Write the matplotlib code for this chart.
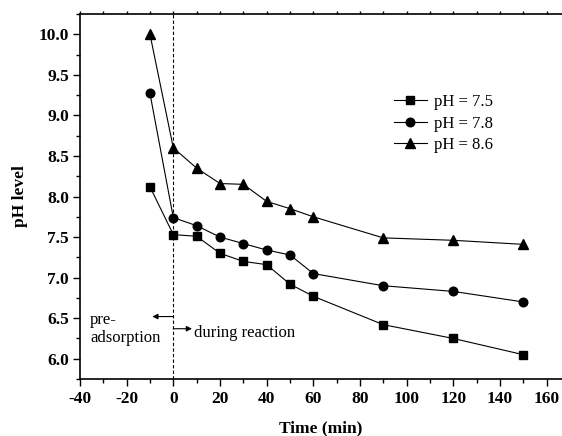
import matplotlib
matplotlib.use("Agg")
import matplotlib.pyplot as plt
from matplotlib.ticker import MultipleLocator

plt.rcParams['font.family'] = ['Liberation Serif', 'DejaVu Serif']
plt.rcParams['axes.unicode_minus'] = False

# Sampling times (min); negative values belong to the pre-adsorption stage
time_min = [-10, 0, 10, 20, 30, 40, 50, 60, 90, 120, 150]

ph_75 = [8.12, 7.53, 7.51, 7.30, 7.20, 7.16, 6.92, 6.77, 6.42, 6.25, 6.05]
ph_78 = [9.27, 7.74, 7.64, 7.50, 7.42, 7.34, 7.28, 7.05, 6.90, 6.83, 6.70]
ph_86 = [10.00, 8.60, 8.35, 8.16, 8.15, 7.94, 7.85, 7.75, 7.49, 7.46, 7.41]

series_labels = ['pH = 7.5', 'pH = 7.8', 'pH = 8.6']
x_ticks = [-40, -20, 0, 20, 40, 60, 80, 100, 120, 140, 160]
y_ticks = [6.0, 6.5, 7.0, 7.5, 8.0, 8.5, 9.0, 9.5, 10.0]

fig = plt.figure(figsize=(5.62, 4.36), dpi=100)
ax = fig.add_axes([0.1423, 0.1307, 0.8577, 0.8372])

ax.plot(time_min, ph_75, color='black', lw=0.8, marker='s', ms=5.5, label=series_labels[0])
ax.plot(time_min, ph_78, color='black', lw=0.8, marker='o', ms=6.2, label=series_labels[1])
ax.plot(time_min, ph_86, color='black', lw=0.8, marker='^', ms=7.0, label=series_labels[2])

# boundary between pre-adsorption and reaction
ax.axvline(0, color='black', lw=0.8, ls=(0, (3, 2)))

ax.set_xlim(-40, 166.6)
ax.set_ylim(5.75, 10.25)
ax.set_xticks(x_ticks)
ax.set_yticks(y_ticks)
ax.set_yticklabels([f"{v:.1f}" for v in y_ticks])
ax.xaxis.set_minor_locator(MultipleLocator(10))
ax.yaxis.set_minor_locator(MultipleLocator(0.25))

for s in ['left', 'bottom', 'top']:
    ax.spines[s].set_linewidth(1.2)
ax.spines['right'].set_visible(False)

ax.tick_params(axis='both', which='major', direction='out', length=5, width=1.0,
               labelsize=12.5)
ax.tick_params(axis='both', which='minor', direction='out', length=3, width=1.0)
ax.tick_params(axis='x', which='both', top=True, labeltop=False)
ax.tick_params(axis='x', which='major', pad=3.5)
ax.tick_params(axis='y', which='major', pad=3)
for lab in ax.get_xticklabels() + ax.get_yticklabels():
    lab.set_fontweight('bold')

# top ticks are short
for t in ax.xaxis.get_major_ticks() + ax.xaxis.get_minor_ticks():
    t.tick2line.set_markersize(2.0)

ax.set_xlabel('Time (min)', fontsize=12.5, fontweight='bold')
ax.set_ylabel('pH level', fontsize=12.5, fontweight='bold')
ax.xaxis.set_label_coords(0.5, -0.134)
ax.yaxis.set_label_coords(-0.124, 0.5)
ax.xaxis.label.set_va('center')
ax.yaxis.label.set_va('center')

# stage annotations
ax.annotate('', xy=(-9, 6.52), xytext=(0, 6.52),
            arrowprops=dict(arrowstyle='-|>', color='black', lw=0.8,
                            mutation_scale=8, shrinkA=0, shrinkB=0))
ax.annotate('', xy=(8, 6.37), xytext=(0, 6.37),
            arrowprops=dict(arrowstyle='-|>', color='black', lw=0.8,
                            mutation_scale=8, shrinkA=0, shrinkB=0))
ax.text(-35.7, 6.365, 'pre-\nadsorption', fontsize=12, ha='left', va='center',
        linespacing=1.2)
ax.text(9.0, 6.32, 'during reaction', fontsize=12, ha='left', va='center')

ax.legend(loc='upper left', bbox_to_anchor=(0.637, 0.799), frameon=False,
          fontsize=12, handlelength=2.0, handletextpad=0.4, labelspacing=0.33,
          borderaxespad=0)

fig.savefig('out.png', dpi=100)
